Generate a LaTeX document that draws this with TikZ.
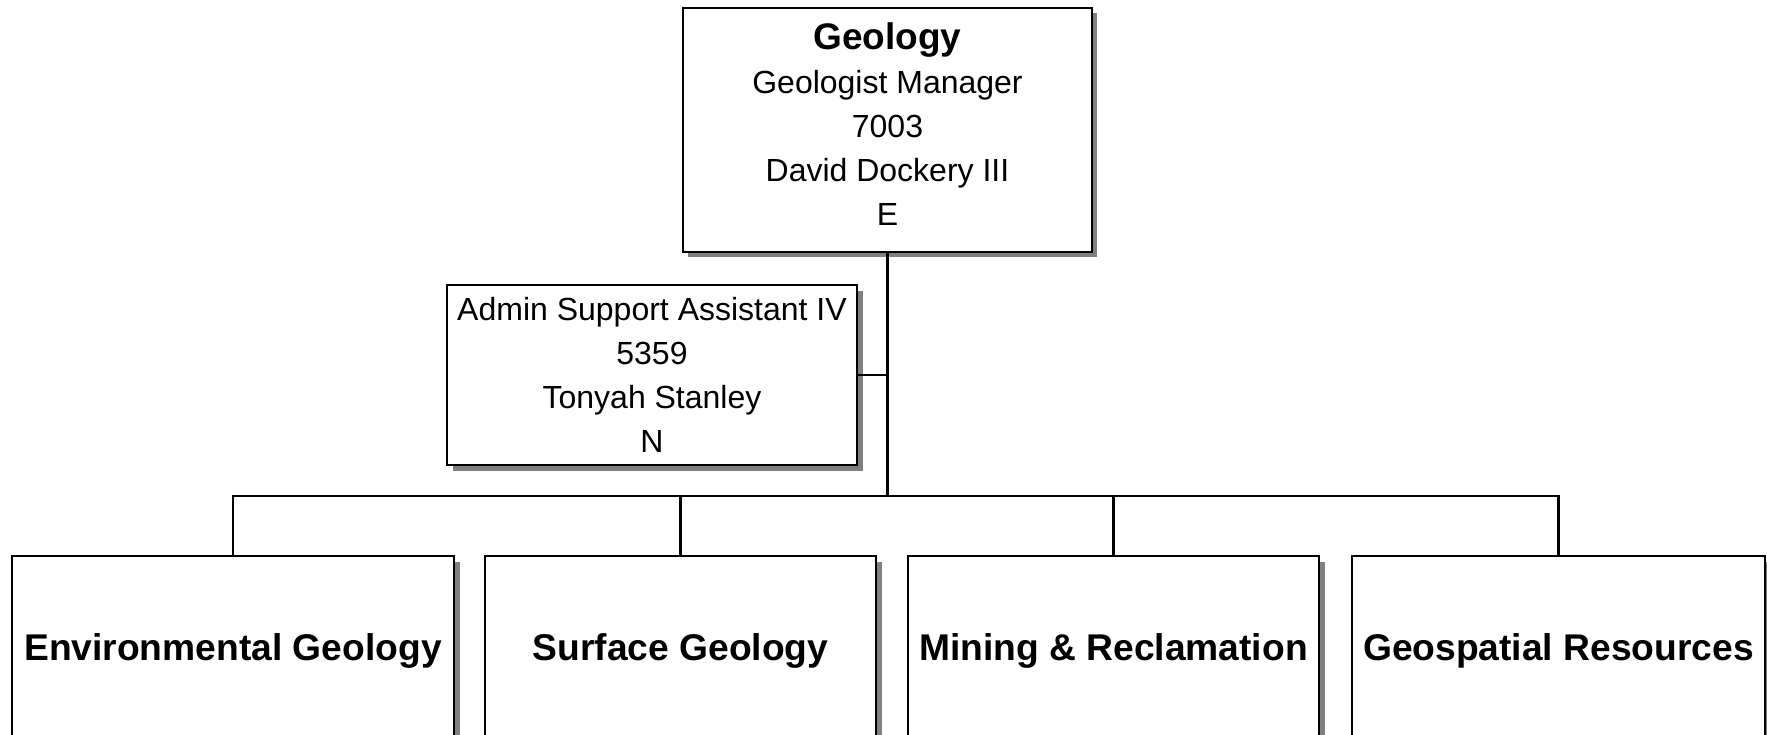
\documentclass[tikz,border=0pt]{standalone}
\usepackage{fontspec}
\setmainfont{Liberation Sans}
\usetikzlibrary{shadows}
\definecolor{shadowgray}{HTML}{808080}
\tikzset{
  orgbox/.style={draw=black, line width=2.2pt, fill=white, rectangle, inner sep=0pt,
    align=center, font=\fontsize{32}{44}\selectfont,
    drop shadow={shadow xshift=#1, shadow yshift=-#1, opacity=1, fill=shadowgray}},
  orgbox/.default=6pt,
  unitbox/.style={orgbox, font=\fontsize{37.2}{44}\selectfont\bfseries, text height=32pt, text depth=8pt},
  link/.style={draw=black, line width=2.2pt}
}
\begin{document}
\begin{tikzpicture}[x=1pt, y=-1pt]
\useasboundingbox (0,0) rectangle (1767,735);
\clip (0,0) rectangle (1767,735);
\fill[white] (0,0) rectangle (1767,735);

\node[orgbox=5pt, minimum width=409pt, minimum height=244pt] (top) at (887.5,130)
  {{\fontsize{37}{46}\selectfont\bfseries Geology}\\Geologist Manager\\7003\\David Dockery III\\E\rule[-11pt]{0pt}{1pt}};

\node[orgbox, minimum width=410pt, minimum height=180pt] (admin) at (652,375)
  {Admin Support Assistant IV\\5359\\Tonyah Stanley\\N};

\node[unitbox, minimum width=442pt, minimum height=184pt] (env) at (233,648) {Environmental Geology};
\node[unitbox, minimum width=391pt, minimum height=184pt] (surf) at (680.5,648) {Surface Geology};
\node[unitbox, minimum width=411pt, minimum height=184pt] (mine) at (1113.5,648) {Mining \& Reclamation};
\node[unitbox, minimum width=413pt, minimum height=184pt] (geo) at (1558.5,648) {Geospatial Resources};

\coordinate (bus) at (top.south |- 0,496);

\draw[link] (top.south) -- (bus);
\draw[link] (admin.east) -- (admin.east -| bus);
\draw[link] (env.north) |- (bus) -| (geo.north);
\draw[link] (surf.north) -- (surf.north |- bus);
\draw[link] (mine.north) -- (mine.north |- bus);
\end{tikzpicture}
\end{document}
